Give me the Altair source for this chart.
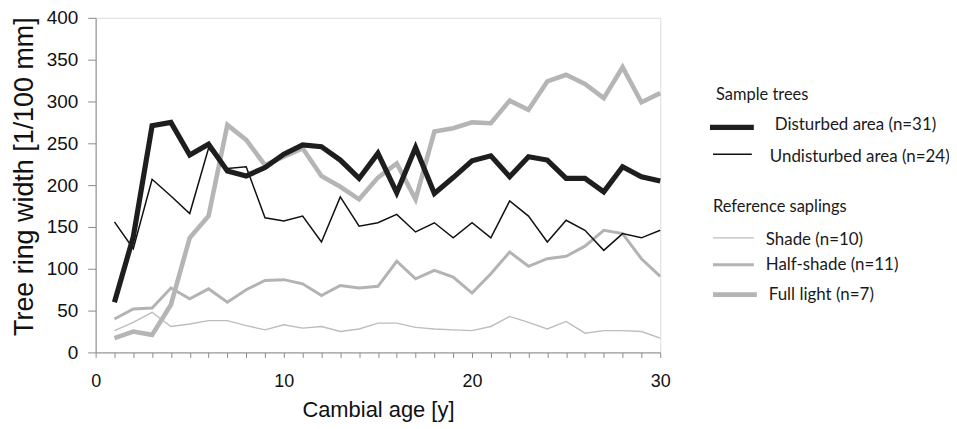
import altair as alt
import pandas as pd

age = list(range(1, 31))
disturbed = [60, 138, 271, 275, 236, 249, 217, 211, 221, 237, 248, 246, 230, 208, 238,
             191, 245, 190, 209, 229, 235, 210, 234, 230, 208, 208, 192, 222, 210, 205]
undisturbed = [156, 124, 207, 187, 166, 244, 220, 222, 161, 157, 163, 132, 186, 151, 155,
               165, 144, 155, 137, 155, 137, 181, 163, 132, 158, 146, 122, 142, 137, 146]
shade = [26, 36, 48, 31, 34, 38, 38, 32, 27, 33, 29, 31, 25, 28, 35,
         35, 30, 28, 27, 26, 31, 43, 36, 28, 37, 23, 26, 26, 25, 17]
half_shade = [40, 52, 53, 77, 64, 76, 60, 75, 86, 87, 82, 68, 80, 77, 79,
              109, 88, 98, 90, 71, 94, 120, 103, 112, 115, 127, 146, 142, 112, 91]
full_light = [17, 25, 21, 57, 137, 163, 272, 254, 224, 234, 244, 211, 198, 183, 209,
              226, 183, 264, 268, 275, 274, 301, 290, 324, 332, 321, 304, 341, 299, 310]

series_names = ["Shade (n=10)", "Half-shade (n=11)", "Full light (n=7)",
                "Undisturbed area (n=24)", "Disturbed area (n=31)"]
series_values = [shade, half_shade, full_light, undisturbed, disturbed]
series_colors = ["#bdbdbd", "#b3b3b3", "#b5b5b5", "#111111", "#1e1e1e"]
series_widths = [1.4, 3.0, 4.6, 1.5, 5.2]

x_ticks = list(range(0, 31))
y_ticks = list(range(0, 401, 50))

W, H = 567, 336
TOP = 9
FONT = "Liberation Sans"
LFONT = "Lato"

x_enc = alt.X("age:Q", scale=alt.Scale(domain=[0, 30], nice=False),
              axis=alt.Axis(values=x_ticks,
                            labelExpr="datum.value % 10 == 0 ? datum.label : ''",
                            tickSize=5, grid=False, labelFlush=False, labelOverlap=False,
                            domainColor="#8a8a8a", tickColor="#8a8a8a",
                            labelFont=FONT, labelFontSize=18, labelColor="#111",
                            labelPadding=15,
                            title="Cambial age [y]", titleFont=FONT, titleFontSize=22,
                            titleFontWeight="normal", titleColor="#111", titlePadding=9))
y_enc = alt.Y("width:Q", scale=alt.Scale(domain=[0, 400], nice=False),
              axis=alt.Axis(values=y_ticks, tickSize=8, grid=False,
                            domainColor="#8a8a8a", tickColor="#8a8a8a",
                            labelFont=FONT, labelFontSize=19, labelColor="#111",
                            labelPadding=10, labelOverlap=False,
                            title="Tree ring width [1/100 mm]", titleFont=FONT,
                            titleFontSize=27, titleFontWeight="normal", titleColor="#111",
                            titlePadding=8, titleY=159))

layers = []
for i, (name, vals) in enumerate(zip(series_names, series_values)):
    d = pd.DataFrame({"age": age, "width": vals, "series": name})
    layers.append(
        alt.Chart(d).mark_line(color=series_colors[i], strokeWidth=series_widths[i],
                               strokeJoin="miter", strokeCap="butt").encode(x=x_enc, y=y_enc)
    )

# custom legend (positions relative to the plot area)
dy = 15 - (8 + TOP)
headers = [("Sample trees", 623, 80), ("Reference saplings", 620, 192)]
for label, x, y in headers:
    layers.append(
        alt.Chart(pd.DataFrame({"label": [label]})).mark_text(
            align="left", baseline="middle", font=LFONT, fontSize=16.5, color="#1a1a1a"
        ).encode(x=alt.value(x), y=alt.value(y + dy), text="label:N")
    )

legend_items = [
    # series index, line x0, x1, line y, text x, text y
    (4, 617, 661, 112, 682, 110),
    (3, 620, 659, 139, 677, 142),
    (0, 620, 661, 223, 673, 225),
    (1, 620, 661, 250, 673, 250),
    (2, 620, 664, 280, 676, 280),
]
for idx, x0, x1, ly, tx, ty in legend_items:
    layers.append(
        alt.Chart(pd.DataFrame({"label": [series_names[idx]]})).mark_rule(
            color=series_colors[idx], strokeWidth=series_widths[idx]
        ).encode(x=alt.value(x0), x2=alt.value(x1), y=alt.value(ly + dy))
    )
    layers.append(
        alt.Chart(pd.DataFrame({"label": [series_names[idx]]})).mark_text(
            align="left", baseline="middle", font=LFONT, fontSize=17, color="#1a1a1a"
        ).encode(x=alt.value(tx), y=alt.value(ty + dy), text="label:N")
    )

chart = alt.layer(*layers).properties(
    width=W, height=H,
    autosize=alt.AutoSizeParams(type="none"),
    padding={"left": 88, "top": TOP, "right": 290, "bottom": 70},
).configure_view(stroke=None).configure(background="white")

chart.save("out.html", embed_options={"renderer": "svg", "actions": False})
